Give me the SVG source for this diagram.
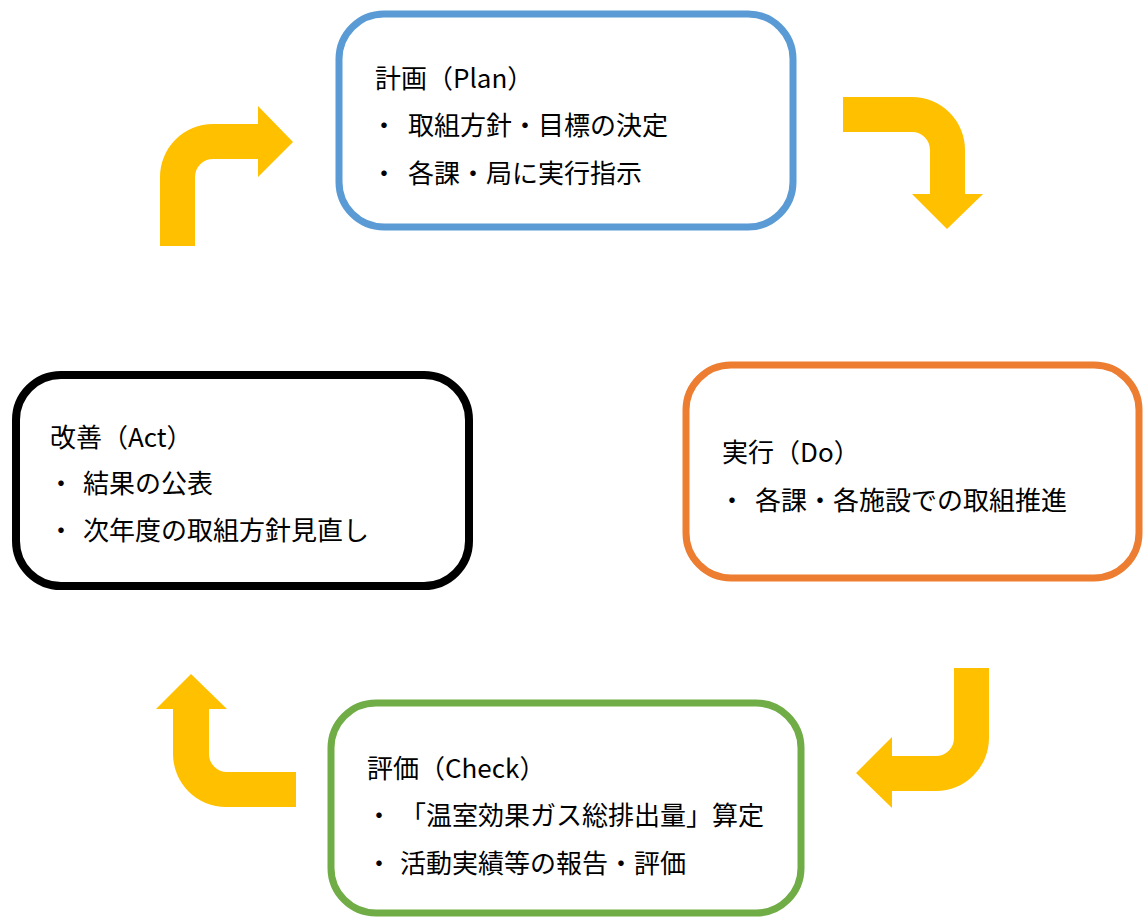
<svg xmlns="http://www.w3.org/2000/svg" width="1143" height="918" viewBox="0 0 1143 918">
  <style>
    .box { fill: #FFFFFF; stroke-width: 7; }
    .plan { stroke: #5B9BD5; }
    .do { stroke: #ED7D31; }
    .act { stroke: #000000; stroke-width: 8; }
    .check { stroke: #70AD47; }
    .flow { fill: #FFC000; stroke: none; }
    text { font-family: "Noto Sans CJK JP", "Noto Sans", sans-serif; font-size: 26px; fill: #000000; }
  </style>
  <rect width="1143" height="918" fill="#FFFFFF"/>

  <!-- cycle arrows -->
  <g id="connectors">
    <path class="flow" d="M160,246 L160,177 A53,53 0 0 1 213,124 L258,124 L258,106 L293,142 L258,177 L258,159 L213,159 A18,18 0 0 0 195,177 L195,246 Z"/>
    <path class="flow" d="M843,97 L912,97 A53,53 0 0 1 965,150 L965,194 L983,194 L947,229 L912,194 L930,194 L930,150 A18,18 0 0 0 912,132 L843,132 Z"/>
    <path class="flow" d="M954,668 L989,668 L989,738 A53,53 0 0 1 936,791 L892,791 L892,808 L856,773 L892,737 L892,756 L936,756 A18,18 0 0 0 954,738 Z"/>
    <path class="flow" d="M296,772 L296,807 L226,807 A53,53 0 0 1 173,754 L173,709 L156,709 L191,674 L227,709 L209,709 L209,754 A18,18 0 0 0 227,772 Z"/>
  </g>

  <!-- Plan -->
  <g id="plan">
    <rect class="box plan" x="339" y="14" width="454" height="213" rx="45" ry="45"/>
    <text x="375" y="88">計画（Plan）</text>
    <text x="371" y="135">・</text>
    <text x="408" y="135">取組方針・目標の決定</text>
    <text x="371" y="183">・</text>
    <text x="408" y="183">各課・局に実行指示</text>
  </g>

  <!-- Do -->
  <g id="do">
    <rect class="box do" x="686" y="365" width="453" height="213" rx="45" ry="45"/>
    <text x="722" y="462">実行（Do）</text>
    <text x="719" y="510">・</text>
    <text x="755" y="510">各課・各施設での取組推進</text>
  </g>

  <!-- Check -->
  <g id="check">
    <rect class="box check" x="331" y="703" width="470" height="210" rx="45" ry="45"/>
    <text x="367" y="778">評価（Check）</text>
    <text x="366" y="825">・</text>
    <text x="400" y="825">「温室効果ガス総排出量」算定</text>
    <text x="366" y="873">・</text>
    <text x="400" y="873">活動実績等の報告・評価</text>
  </g>

  <!-- Act -->
  <g id="act">
    <rect class="box act" x="16" y="375" width="453" height="211" rx="45" ry="45"/>
    <text x="50" y="447">改善（Act）</text>
    <text x="48" y="493">・</text>
    <text x="83" y="493">結果の公表</text>
    <text x="48" y="540">・</text>
    <text x="83" y="540">次年度の取組方針見直し</text>
  </g>
</svg>
